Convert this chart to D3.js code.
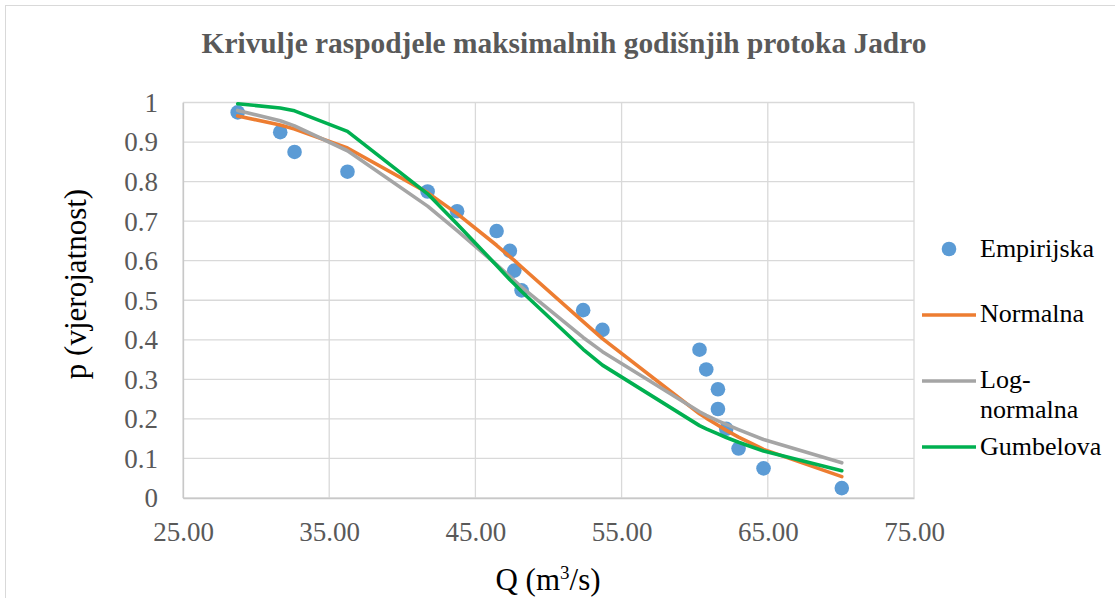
<!DOCTYPE html>
<html>
<head>
<meta charset="utf-8">
<script src="https://cdn.jsdelivr.net/npm/d3@7"></script>
<style>
  html, body { margin: 0; padding: 0; background: #fff; }
  svg { display: block; }
  svg text { font-family: 'Liberation Serif', 'Times New Roman', Times, 'DejaVu Serif', serif !important; }
</style>
</head>
<body>
<svg id="chart" width="1115" height="598"></svg>
<script>
// ---- Data ----
const title = "Krivulje raspodjele maksimalnih godišnjih protoka Jadro";
const xTicks = [25, 35, 45, 55, 65, 75];
const yTicks = [0, 0.1, 0.2, 0.3, 0.4, 0.5, 0.6, 0.7, 0.8, 0.9, 1];
const seriesNames = ["Empirijska", "Normalna", "Log-normalna", "Gumbelova"];

const Q = [28.74, 31.65, 32.63, 36.25, 41.73, 43.75, 46.45, 47.36, 47.66, 48.16,
           52.37, 53.69, 60.33, 60.79, 61.59, 61.59, 62.16, 63.00, 64.71, 70.06];
const pEmpirijska = [0.975, 0.925, 0.875, 0.825, 0.775, 0.725, 0.675, 0.625, 0.575, 0.525,
                     0.475, 0.425, 0.375, 0.325, 0.275, 0.225, 0.175, 0.125, 0.075, 0.025];
const pNormalna = [0.966, 0.943, 0.933, 0.885, 0.772, 0.719, 0.639, 0.610, 0.601, 0.584,
                   0.446, 0.403, 0.213, 0.202, 0.184, 0.184, 0.171, 0.154, 0.123, 0.054];
const pLogNormalna = [0.980, 0.954, 0.941, 0.878, 0.738, 0.676, 0.590, 0.560, 0.550, 0.533,
                      0.406, 0.370, 0.218, 0.209, 0.195, 0.195, 0.186, 0.173, 0.148, 0.089];
const pGumbelova = [0.997, 0.986, 0.979, 0.927, 0.769, 0.693, 0.588, 0.552, 0.541, 0.522,
                    0.376, 0.336, 0.183, 0.175, 0.162, 0.162, 0.153, 0.141, 0.119, 0.069];

const colors = { emp: "#5B9BD5", normal: "#ED7D31", lognormal: "#A5A5A5", gumbel: "#00B050" };
const FONT = "'Liberation Serif', 'Times New Roman', Times, 'DejaVu Serif', serif";

// ---- Layout ----
const svg = d3.select("#chart");
const plot = { left: 183, right: 914, top: 102.5, bottom: 498 };

// chart area border
svg.append("rect").attr("x", 5.5).attr("y", 5.5).attr("width", 1130).attr("height", 620)
  .attr("fill", "#fff").attr("stroke", "#D9D9D9").attr("stroke-width", 1);

const x = d3.scaleLinear().domain([25, 75]).range([plot.left, plot.right]);
const y = d3.scaleLinear().domain([0, 1]).range([plot.bottom, plot.top]);

// Title
svg.append("text").attr("x", 564).attr("y", 53).attr("text-anchor", "middle")
  .attr("font-family", FONT)
  .attr("font-size", 29.4).attr("font-weight", "bold").attr("fill", "#595959")
  .text(title);

// Gridlines
const grid = svg.append("g");
grid.selectAll("line.h").data(yTicks).enter().append("line")
  .attr("x1", plot.left).attr("x2", plot.right)
  .attr("y1", d => y(d)).attr("y2", d => y(d))
  .attr("stroke", "#D9D9D9").attr("stroke-width", 1.3);
grid.selectAll("line.v").data(xTicks).enter().append("line")
  .attr("y1", plot.top).attr("y2", plot.bottom)
  .attr("x1", d => x(d)).attr("x2", d => x(d))
  .attr("stroke", "#D9D9D9").attr("stroke-width", 1.3);

// Axes (lines + labels)
const xAxis = d3.axisBottom(x).tickValues(xTicks).tickSize(0).tickPadding(0)
  .tickFormat(d3.format(".2f"));
const gx = svg.append("g").attr("transform", `translate(0,${plot.bottom})`).call(xAxis)
  .attr("font-family", FONT);
gx.select(".domain").attr("stroke", "#C8C8C8").attr("stroke-width", 1.3);
gx.selectAll("text").attr("font-size", 27).attr("fill", "#595959")
  .attr("font-family", FONT).attr("dy", null).attr("y", 43);

const yAxis = d3.axisLeft(y).tickValues(yTicks).tickSize(0).tickPadding(25)
  .tickFormat(d => d3.format("~g")(d));
const gy = svg.append("g").attr("transform", `translate(${plot.left},0)`).call(yAxis)
  .attr("font-family", FONT);
gy.select(".domain").attr("stroke", "#C8C8C8").attr("stroke-width", 1.3);
gy.selectAll("text").attr("font-size", 27).attr("fill", "#595959")
  .attr("font-family", FONT).attr("dy", "0.33em");

// Axis titles
const xt = svg.append("text").attr("x", 548).attr("y", 590).attr("text-anchor", "middle")
  .attr("font-family", FONT).attr("font-size", 31).attr("fill", "#000");
xt.append("tspan").text("Q (m");
xt.append("tspan").attr("font-size", 19).attr("dy", -11).text("3");
xt.append("tspan").attr("dy", 11).text("/s)");

svg.append("text").attr("transform", "translate(86,284) rotate(-90)")
  .attr("font-family", FONT)
  .attr("text-anchor", "middle").attr("font-size", 31).attr("fill", "#000")
  .text("p (vjerojatnost)");

// Data
const pts = Q.map((q, i) => ({ q, emp: pEmpirijska[i], normal: pNormalna[i],
                                lognormal: pLogNormalna[i], gumbel: pGumbelova[i] }));

svg.append("g").selectAll("circle").data(pts).enter().append("circle")
  .attr("cx", d => x(d.q)).attr("cy", d => y(d.emp)).attr("r", 7.3)
  .attr("fill", colors.emp);

["normal", "lognormal", "gumbel"].forEach(key => {
  const line = d3.line().x(d => x(d.q)).y(d => y(d[key]));
  svg.append("path").datum(pts).attr("d", line).attr("fill", "none")
    .attr("stroke", colors[key]).attr("stroke-width", 3.6)
    .attr("stroke-linejoin", "round").attr("stroke-linecap", "round");
});

// Legend
const lg = svg.append("g").attr("font-family", FONT);
const legFont = 26;
lg.append("circle").attr("cx", 949).attr("cy", 249).attr("r", 7.3).attr("fill", colors.emp);
lg.append("text").attr("x", 980).attr("y", 257).attr("font-size", legFont).text(seriesNames[0]);

lg.append("line").attr("x1", 922).attr("x2", 976).attr("y1", 315).attr("y2", 315)
  .attr("stroke", colors.normal).attr("stroke-width", 3.6);
lg.append("text").attr("x", 980).attr("y", 322).attr("font-size", legFont).text(seriesNames[1]);

lg.append("line").attr("x1", 922).attr("x2", 976).attr("y1", 381).attr("y2", 381)
  .attr("stroke", colors.lognormal).attr("stroke-width", 3.6);
const lt = lg.append("text").attr("x", 980).attr("y", 388).attr("font-size", legFont);
lt.append("tspan").attr("x", 980).text("Log-");
lt.append("tspan").attr("x", 980).attr("dy", 30).text("normalna");

lg.append("line").attr("x1", 922).attr("x2", 976).attr("y1", 447).attr("y2", 447)
  .attr("stroke", colors.gumbel).attr("stroke-width", 3.6);
lg.append("text").attr("x", 980).attr("y", 455).attr("font-size", legFont).text(seriesNames[3]);
</script>
</body>
</html>
